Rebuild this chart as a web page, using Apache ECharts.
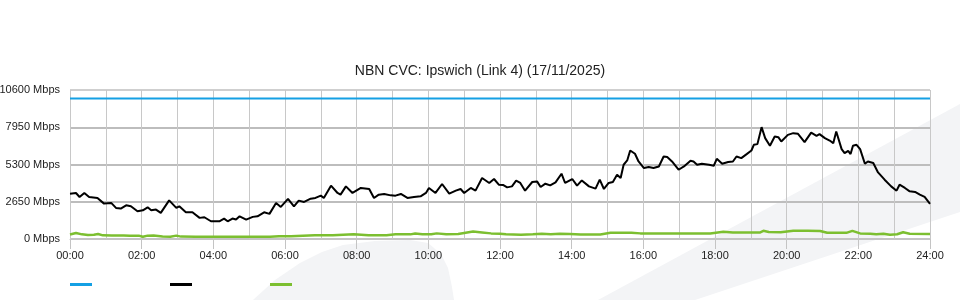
<!DOCTYPE html>
<html>
<head>
<meta charset="utf-8">
<script src="https://cdn.jsdelivr.net/npm/echarts@6/dist/echarts.min.js"></script>
<style>html,body{margin:0;padding:0;background:#fff}#c{width:960px;height:300px}</style>
</head>
<body>
<div id="c"></div>
<script>
const titleText = 'NBN CVC: Ipswich (Link 4) (17/11/2025)';
const seriesNames = ['Capacity', 'Download', 'Upload'];
const yTicks = [0, 2650, 5300, 7950, 10600];
const capacityTimes = [0, 1440];
const capacityMbps = [10000, 10000];
const downloadTimes = [0,10,16,24,32,46,57,69,77,85,94,102,113,122,130,136,144,152,166,178,183,194,205,208,217,225,236,250,258,264,272,278,284,295,306,314,325,334,345,353,365,375,383,392,403,411,420,425,437,448,453,462,473,487,501,509,517,526,537,545,554,565,576,587,596,601,612,623,635,646,654,660,671,679,690,702,710,718,725,732,740,747,754,762,774,782,788,796,804,813,823,829,841,849,857,869,880,887,894,902,909,916,922,927,933,938,946,952,961,969,977,986,994,1000,1008,1019,1028,1039,1044,1050,1058,1070,1078,1083,1092,1102,1110,1116,1124,1133,1141,1145,1151,1158,1164,1172,1180,1186,1191,1202,1211,1219,1230,1241,1250,1255,1264,1272,1278,1283,1286,1292,1297,1303,1307,1311,1317,1323,1331,1336,1345,1353,1364,1375,1384,1389,1398,1406,1415,1423,1431,1440];
const downloadMbps = [3226,3275,2990,3275,2990,2920,2517,2567,2212,2162,2396,2325,1970,2042,2254,2042,2091,1857,2751,2212,2325,1900,1900,2042,1503,1546,1262,1262,1453,1262,1453,1383,1617,1383,1574,1617,1900,1787,2567,2283,2850,2325,2730,2637,2871,2920,3084,2920,3793,3275,3155,3744,3275,3630,3559,2920,3155,3205,3105,3084,3205,2920,2992,3035,3275,3630,3275,3914,3226,3439,3559,3275,3630,3439,4339,3984,4268,3864,3850,3673,3744,4148,3984,3439,4055,4098,3701,3935,3814,4027,4644,3984,4268,3793,4169,3744,3580,4219,3559,3984,4055,4573,4339,5282,5587,6296,6062,5516,5048,5119,5048,5161,5871,5828,5516,4928,5161,5566,5516,5282,5353,5282,5211,5707,5353,5474,5516,5871,5757,6041,6296,6700,6750,7955,7175,6629,7289,7246,6934,7409,7530,7480,6891,7572,7338,7459,7175,7005,6820,7643,7714,6395,6112,6275,6041,6629,6700,6395,5353,5516,5403,4736,4219,3744,3439,3864,3630,3389,3346,3155,2992,2500];
const uploadTimes = [0,10,20,30,40,47,55,70,90,100,115,122,130,140,143,155,168,178,186,210,240,270,300,335,350,370,410,440,475,500,530,545,570,578,590,605,614,630,650,665,675,690,705,720,730,755,775,790,805,820,837,855,888,905,920,940,955,985,1010,1040,1072,1094,1110,1140,1155,1161,1170,1190,1211,1235,1256,1268,1300,1310,1323,1340,1350,1362,1373,1385,1395,1406,1440];
const uploadMbps = [320,430,330,280,300,360,260,250,250,230,240,160,240,245,160,180,160,240,170,160,160,165,165,165,200,200,270,270,340,270,275,330,330,390,340,340,400,340,350,460,530,470,400,380,330,310,340,370,340,370,360,320,320,440,440,450,400,390,400,390,390,510,460,470,460,580,500,480,580,580,570,440,440,580,400,370,340,380,300,340,480,370,360];

function pairs(t, v) { return t.map((m, i) => [m, v[i]]); }
function hhmm(m) { const h = Math.floor(m / 60), mm = m % 60; return String(h).padStart(2, '0') + ':' + String(mm).padStart(2, '0'); }

const chart = echarts.init(document.getElementById('c'), null, { renderer: 'canvas' });
const font = 'Liberation Sans, Arial, sans-serif';
chart.setOption({
  animation: false,
  backgroundColor: '#ffffff',
  textStyle: { fontFamily: font },
  title: {
    text: titleText, left: 'center', top: 64, padding: 0,
    textStyle: { fontSize: 14, fontWeight: 'normal', color: '#222', fontFamily: font }
  },
  graphic: [
    { type: 'polygon', z: -10, silent: true,
      shape: { points: [[253, 300], [275, 280], [300, 263], [322, 252], [343, 245], [375, 241], [410, 240], [428, 243], [441, 254], [448, 268], [452, 287], [454, 300]] },
      style: { fill: '#f3f4f6' } },
    { type: 'polygon', z: -10, silent: true,
      shape: { points: [[598, 300], [960, 104], [960, 212], [695, 300]] },
      style: { fill: '#f3f4f6' } }
  ],
  legend: {
    left: 70, top: 283, itemWidth: 22, itemHeight: 3, itemGap: 78, icon: 'rect',
    padding: 0, formatter: () => '', selectedMode: false,
    data: seriesNames
  },
  grid: { left: 70, right: 30, top: 90, bottom: 61, outerBoundsMode: 'none', containLabel: false },
  xAxis: {
    type: 'value', min: 0, max: 1440, interval: 120,
    axisLine: { show: true, lineStyle: { color: '#c4c4c4', width: 1 } },
    axisTick: { show: true, length: 10, lineStyle: { color: '#c4c4c4' } },
    axisLabel: { color: '#222', fontSize: 11, margin: 11, fontFamily: font, formatter: v => hhmm(v) },
    splitLine: { show: true, lineStyle: { color: '#c8c8c8', width: 1 } },
    minorTick: { show: false, splitNumber: 2 },
    minorSplitLine: { show: true, lineStyle: { color: '#c8c8c8', width: 1 } }
  },
  yAxis: {
    type: 'value', min: yTicks[0], max: yTicks[yTicks.length - 1], interval: yTicks[1] - yTicks[0],
    axisLine: { show: false }, axisTick: { show: false },
    axisLabel: { color: '#222', fontSize: 11, margin: 10, fontFamily: font, formatter: v => v + ' Mbps' },
    splitLine: { show: true, lineStyle: { color: ['#c4c4c4', '#bdbdbd', '#bdbdbd', '#bdbdbd', '#cfcfcf'], width: 2 } }
  },
  series: [
    { name: seriesNames[0], type: 'line', data: pairs(capacityTimes, capacityMbps), showSymbol: false, z: 3,
      lineStyle: { color: '#14a0e4', width: 2 }, itemStyle: { color: '#14a0e4' } },
    { name: seriesNames[1], type: 'line', data: pairs(downloadTimes, downloadMbps), showSymbol: false, z: 4,
      lineStyle: { color: '#000000', width: 2 }, itemStyle: { color: '#000000' } },
    { name: seriesNames[2], type: 'line', data: pairs(uploadTimes, uploadMbps), showSymbol: false, z: 3,
      lineStyle: { color: '#7cbf30', width: 2.5 }, itemStyle: { color: '#7cbf30' } }
  ]
});
</script>
</body>
</html>
